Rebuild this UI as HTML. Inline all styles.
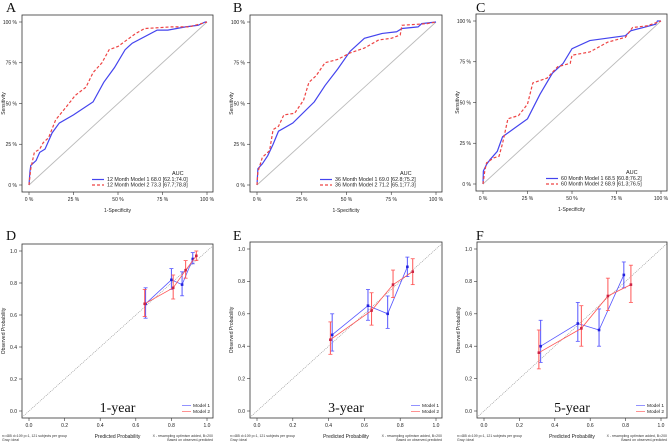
<!DOCTYPE html>
<html><head><meta charset="utf-8"><style>
html,body{margin:0;padding:0;background:#fff;}
svg{display:block;font-family:"Liberation Sans",sans-serif;}
</style></head><body>
<svg id="c" width="669" height="446" viewBox="0 0 669 446" xmlns="http://www.w3.org/2000/svg"></svg>
<script>
// ROC data (fpr, tpr)
const rocA1x=[0,0.005,0.01,0.02,0.04,0.06,0.09,0.11,0.13,0.17,0.25,0.36,0.42,0.48,0.54,0.58,0.72,0.78,0.88,0.95,0.99,1];
const rocA1y=[0,0.08,0.12,0.13,0.15,0.20,0.22,0.27,0.32,0.38,0.43,0.51,0.63,0.72,0.83,0.87,0.95,0.95,0.97,0.98,1,1];
const rocA2x=[0,0.01,0.02,0.03,0.06,0.08,0.11,0.15,0.21,0.26,0.32,0.36,0.41,0.45,0.50,0.55,0.60,0.65,0.80,0.90,1];
const rocA2y=[0,0.10,0.15,0.20,0.22,0.26,0.29,0.40,0.48,0.55,0.60,0.69,0.75,0.83,0.85,0.89,0.93,0.96,0.97,0.97,1];
const rocB1x=[0,0.005,0.03,0.06,0.09,0.12,0.20,0.32,0.38,0.45,0.52,0.60,0.70,0.78,0.81,0.90,0.92,1];
const rocB1y=[0,0.10,0.13,0.18,0.25,0.33,0.38,0.51,0.61,0.71,0.82,0.90,0.93,0.94,0.96,0.97,0.99,1];
const rocB2x=[0,0.005,0.03,0.07,0.09,0.12,0.15,0.21,0.26,0.29,0.33,0.38,0.45,0.52,0.60,0.68,0.75,0.80,0.81,0.95,1];
const rocB2y=[0,0.08,0.17,0.21,0.34,0.36,0.43,0.44,0.52,0.63,0.67,0.75,0.77,0.81,0.84,0.89,0.90,0.92,0.98,0.99,1];
const rocC1x=[0,0.002,0.02,0.04,0.08,0.10,0.11,0.25,0.32,0.39,0.45,0.50,0.60,0.80,0.83,0.90,0.97,0.98,1];
const rocC1y=[0,0.08,0.12,0.15,0.20,0.26,0.29,0.40,0.55,0.68,0.74,0.83,0.88,0.91,0.94,0.96,0.98,1,1];
const rocC2x=[0,0.01,0.02,0.06,0.09,0.11,0.14,0.20,0.25,0.28,0.36,0.42,0.49,0.50,0.60,0.70,0.80,0.84,0.92,1];
const rocC2y=[0,0.08,0.13,0.16,0.17,0.25,0.40,0.42,0.49,0.62,0.65,0.72,0.74,0.79,0.81,0.87,0.90,0.96,0.97,1];
const rocTicks=["0 %","25 %","50 %","75 %","100 %"];
const calTicks=["0.0","0.2","0.4","0.6","0.8","1.0"];
// Calibration data: predicted, observed, lower, upper
const calD1p=[0.655,0.80,0.86,0.92], calD1o=[0.67,0.82,0.79,0.95], calD1l=[0.58,0.76,0.72,0.92], calD1h=[0.77,0.89,0.87,0.99];
const calD2p=[0.65,0.81,0.88,0.94], calD2o=[0.67,0.77,0.88,0.97], calD2l=[0.59,0.70,0.83,0.94], calD2h=[0.76,0.85,0.94,1.0];
const calE1p=[0.42,0.62,0.73,0.84], calE1o=[0.47,0.65,0.60,0.89], calE1l=[0.37,0.56,0.51,0.83], calE1h=[0.60,0.75,0.71,0.95];
const calE2p=[0.41,0.64,0.76,0.87], calE2o=[0.44,0.62,0.78,0.86], calE2l=[0.35,0.53,0.70,0.78], calE2h=[0.55,0.73,0.87,0.94];
const calF1p=[0.32,0.53,0.65,0.79], calF1o=[0.40,0.54,0.50,0.84], calF1l=[0.30,0.43,0.40,0.76], calF1h=[0.56,0.67,0.63,0.92];
const calF2p=[0.31,0.55,0.70,0.83], calF2o=[0.36,0.51,0.71,0.78], calF2l=[0.26,0.40,0.62,0.67], calF2h=[0.50,0.65,0.82,0.90];

const NS="http://www.w3.org/2000/svg", svg=document.getElementById('c');
function mk(tag,attrs,parent,txt){const e=document.createElementNS(NS,tag);for(const k in attrs)e.setAttribute(k,attrs[k]);if(txt!==undefined)e.textContent=txt;(parent||svg).appendChild(e);return e;}
function axes(p){
  const sx=v=>p.x+7+v*(p.w-13), sy=v=>p.y+p.h-7-v*(p.h-14);
  return {sx,sy};
}
function frame(p,name,letter,xt,yt,ticks){
  const g=mk('g',{});
  
  
  const {sx,sy}=axes(p);
  const lt=mk('text',{x:p.lx,y:p.ly,'font-family':'Liberation Serif,serif','font-size':14,fill:'#111'},g,letter);
  
  
  const bx=mk('rect',{x:p.x,y:p.y,width:p.w,height:p.h,fill:'none',stroke:'#333','stroke-width':0.8},g);
  
  
  ticks.forEach((t,i)=>{
    const v=i/(ticks.length-1);
    mk('line',{x1:sx(v),x2:sx(v),y1:p.y+p.h,y2:p.y+p.h+3,stroke:'#333','stroke-width':0.6},g);
    const xl=mk('text',{x:sx(v),y:p.y+p.h+9,'font-size':5,'text-anchor':'middle',fill:'#222'},g,t);
    
    
    mk('line',{x1:p.x,x2:p.x-3,y1:sy(v),y2:sy(v),stroke:'#333','stroke-width':0.6},g);
    const yl=mk('text',{x:p.x-5,y:sy(v)+1.8,'font-size':5,'text-anchor':'end',fill:'#222'},g,t);
    
    
  });
  const xa=mk('text',{x:p.x+p.w/2,y:p.y+p.h+20,'font-size':5,'text-anchor':'middle',fill:'#222'},g,xt);
  
  
  const ya=mk('text',{x:0,y:0,'font-size':5,'text-anchor':'middle',fill:'#222',transform:`translate(${p.x-17},${p.y+p.h/2}) rotate(-90)`},g,yt);
  
  
  return {g,sx,sy};
}
function roc(p,name,letter,m,s1x,s1y,s2x,s2y,auc1,auc2){
  const {g,sx,sy}=frame(p,name,letter,'1-Specificity','Sensitivity',rocTicks);
  const d=mk('line',{x1:sx(0),y1:sy(0),x2:sx(1),y2:sy(1),stroke:'#bbb','stroke-width':0.9},g);
  
  
  const l1=mk('polyline',{points:s1x.map((v,i)=>sx(v)+','+sy(s1y[i])).join(' '),fill:'none',stroke:'#4444ee','stroke-width':1.2},g);
  
  
  const l2=mk('polyline',{points:s2x.map((v,i)=>sx(v)+','+sy(s2y[i])).join(' '),fill:'none',stroke:'#ee4444','stroke-width':1.2,'stroke-dasharray':'3,2'},g);
  
  
  const lx=p.x+70, ly=p.y+p.h-11;
  mk('text',{x:lx+80,y:ly-6,'font-size':5.5,fill:'#222'},g,'AUC');
  [[auc1,'#4444ee','',' Month Model 1'],[auc2,'#ee4444','3,2',' Month Model 2']].forEach((r,i)=>{
    const y=ly+i*5.5;
    const e=mk('g',{},g);
    
    
    mk('line',{x1:lx,x2:lx+12,y1:y-1.5,y2:y-1.5,stroke:r[1],'stroke-width':1.2,'stroke-dasharray':r[2]},e);
    mk('text',{x:lx+15,y:y,'font-size':5.3,fill:'#222'},e,m+r[3]+'  '+r[0]);
  });
}
function cal(p,name,letter,year,a,b){
  const {g,sx,sy}=frame(p,name,letter,'Predicted Probability','Observed Probability',calTicks);
  const lo=-(7/(p.w-13)), hi=1+6/(p.w-13);
  const d=mk('line',{x1:sx(lo),y1:sy(lo),x2:sx(hi),y2:sy(hi),stroke:'#888','stroke-width':0.6,'stroke-dasharray':'1,1'},g);
  
  
  [[a,'#5555ff','model-1'],[b,'#ff5555','model-2']].forEach(([s,c,n])=>{
    const [pp,oo,ll,hh]=s;
    const sg=mk('g',{},g);
    
    
    mk('polyline',{points:pp.map((v,i)=>sx(v)+','+sy(oo[i])).join(' '),fill:'none',stroke:c,'stroke-width':0.8},sg);
    pp.forEach((v,i)=>{
      const x=sx(v);
      mk('line',{x1:x,x2:x,y1:sy(ll[i]),y2:sy(hh[i]),stroke:c,'stroke-width':1},sg);
      mk('line',{x1:x-2,x2:x+2,y1:sy(ll[i]),y2:sy(ll[i]),stroke:c,'stroke-width':0.8},sg);
      mk('line',{x1:x-2,x2:x+2,y1:sy(hh[i]),y2:sy(hh[i]),stroke:c,'stroke-width':0.8},sg);
      mk('rect',{x:x-1.3,y:sy(oo[i])-1.3,width:2.6,height:2.6,fill:c==='#5555ff'?'#2222dd':'#cc2244'},sg);
    });
  });
  const yt=mk('text',{x:p.x+p.w*0.5,y:p.y+p.h-6,'font-family':'Liberation Serif,serif','font-size':14,'text-anchor':'middle',fill:'#111'},g,year);
  
  
  [['Model 1','#7777ff'],['Model 2','#ff7777']].forEach((r,i)=>{
    const y=p.y+p.h-11+i*6;
    const e=mk('g',{},g);
    
    
    mk('line',{x1:p.x+p.w-31,x2:p.x+p.w-22,y1:y-1.5,y2:y-1.5,stroke:r[1],'stroke-width':0.8},e);
    mk('text',{x:p.x+p.w-20,y:y,'font-size':4.8,fill:'#222'},e,r[0]);
  });
  const f1=mk('text',{x:p.x-20,y:p.y+p.h+19,'font-size':3.5,fill:'#333'},g,'n=485 d=109 p=1, 121 subjects per group');
  
  
  mk('text',{x:p.x-20,y:p.y+p.h+23,'font-size':3.5,fill:'#333'},g,'Gray: ideal');
  const f2=mk('text',{x:p.x+p.w,y:p.y+p.h+19,'font-size':3.5,'text-anchor':'end',fill:'#333'},g,'X - resampling optimism added, B=200');
  
  
  mk('text',{x:p.x+p.w,y:p.y+p.h+23,'font-size':3.5,'text-anchor':'end',fill:'#333'},g,'Based on observed-predicted');
}
roc({x:22,y:15,w:191,h:177,lx:6,ly:12},'roc-panel-a','A','12',rocA1x,rocA1y,rocA2x,rocA2y,'68.0 [62.1;74.0]','73.3 [67.7;78.8]');
roc({x:250,y:15,w:192,h:177,lx:233,ly:12},'roc-panel-b','B','36',rocB1x,rocB1y,rocB2x,rocB2y,'69.0 [62.8;75.2]','71.2 [65.1;77.3]');
roc({x:476,y:14,w:191,h:177,lx:476,ly:12},'roc-panel-c','C','60',rocC1x,rocC1y,rocC2x,rocC2y,'68.5 [60.8;76.2]','68.9 [61.3;76.5]');
cal({x:22,y:244,w:191,h:174,lx:6,ly:240},'calibration-panel-d','D','1-year',[calD1p,calD1o,calD1l,calD1h],[calD2p,calD2o,calD2l,calD2h]);
cal({x:250,y:242,w:192,h:176,lx:233,ly:240},'calibration-panel-e','E','3-year',[calE1p,calE1o,calE1l,calE1h],[calE2p,calE2o,calE2l,calE2h]);
cal({x:477,y:242,w:190,h:176,lx:476,ly:240},'calibration-panel-f','F','5-year',[calF1p,calF1o,calF1l,calF1h],[calF2p,calF2o,calF2l,calF2h]);
</script>
</body></html>
